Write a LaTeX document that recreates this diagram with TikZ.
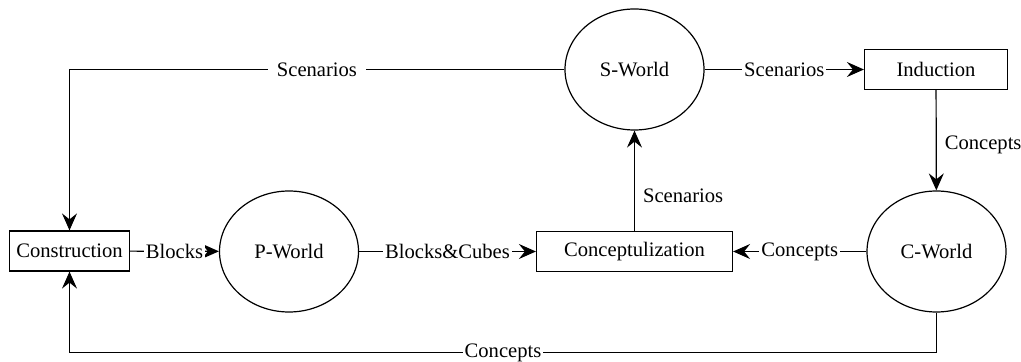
\documentclass[tikz,border=0pt]{standalone}
\usepackage{fontspec}
\setmainfont{Liberation Serif}
\usetikzlibrary{shapes.geometric,arrows.meta}

\begin{document}
\begin{tikzpicture}[x=0.5pt, y=-0.5pt, semithick, font=\fontsize{10.3}{12}\selectfont,
    world/.style={draw, ellipse, minimum width=69.5pt, minimum height=60.5pt, inner sep=0pt},
    stage/.style={draw, rectangle, minimum height=20pt, inner sep=0pt},
    flow/.style={fill=white, inner sep=1pt},
    side/.style={right, inner sep=4pt},
    >={Stealth[length=8.5pt,width=7.5pt,inset=3pt]}]
    \useasboundingbox (0, 0) rectangle (1021, 362);
    \node[stage, minimum width=60pt] (construction) at (69.5, 251) {Construction};
    \node[world] (pworld) at (289, 251.5) {P-World};
    \node[stage, minimum width=98pt] (concept) at (634.5, 251.5) {Conceptulization};
    \node[world] (cworld) at (936.5, 251.5) {C-World};
    \node[world] (sworld) at (634.5, 69.5) {S-World};
    \node[stage, minimum width=71.5pt] (induction) at (936, 69.5) {Induction};
    \coordinate (topleft) at (69.5, 69.5);
    \coordinate (botright) at (936.5, 352.5);
    \coordinate (botleft) at (69.5, 352.5);
    \draw[->] (construction) -- node[flow] {Blocks} (pworld);
    \draw[->] (pworld) -- node[flow] {Blocks\&Cubes} (concept);
    \draw[->] (cworld) -- node[flow] {Concepts} (concept);
    \draw[->] (concept) -- node[side, pos=0.35] {Scenarios} (sworld);
    \draw[->] (sworld) -- node[flow] {Scenarios} (induction);
    \draw[->] (induction) -- node[side, pos=0.55] {Concepts} (cworld);
    \draw[->] (sworld.west) -- node[flow, inner sep=4.5pt] {Scenarios} (topleft) -- (construction.north);
    \draw[->] (cworld.south) -- (botright) -- node[flow] {Concepts} (botleft) -- (construction.south);
\end{tikzpicture}
\end{document}
